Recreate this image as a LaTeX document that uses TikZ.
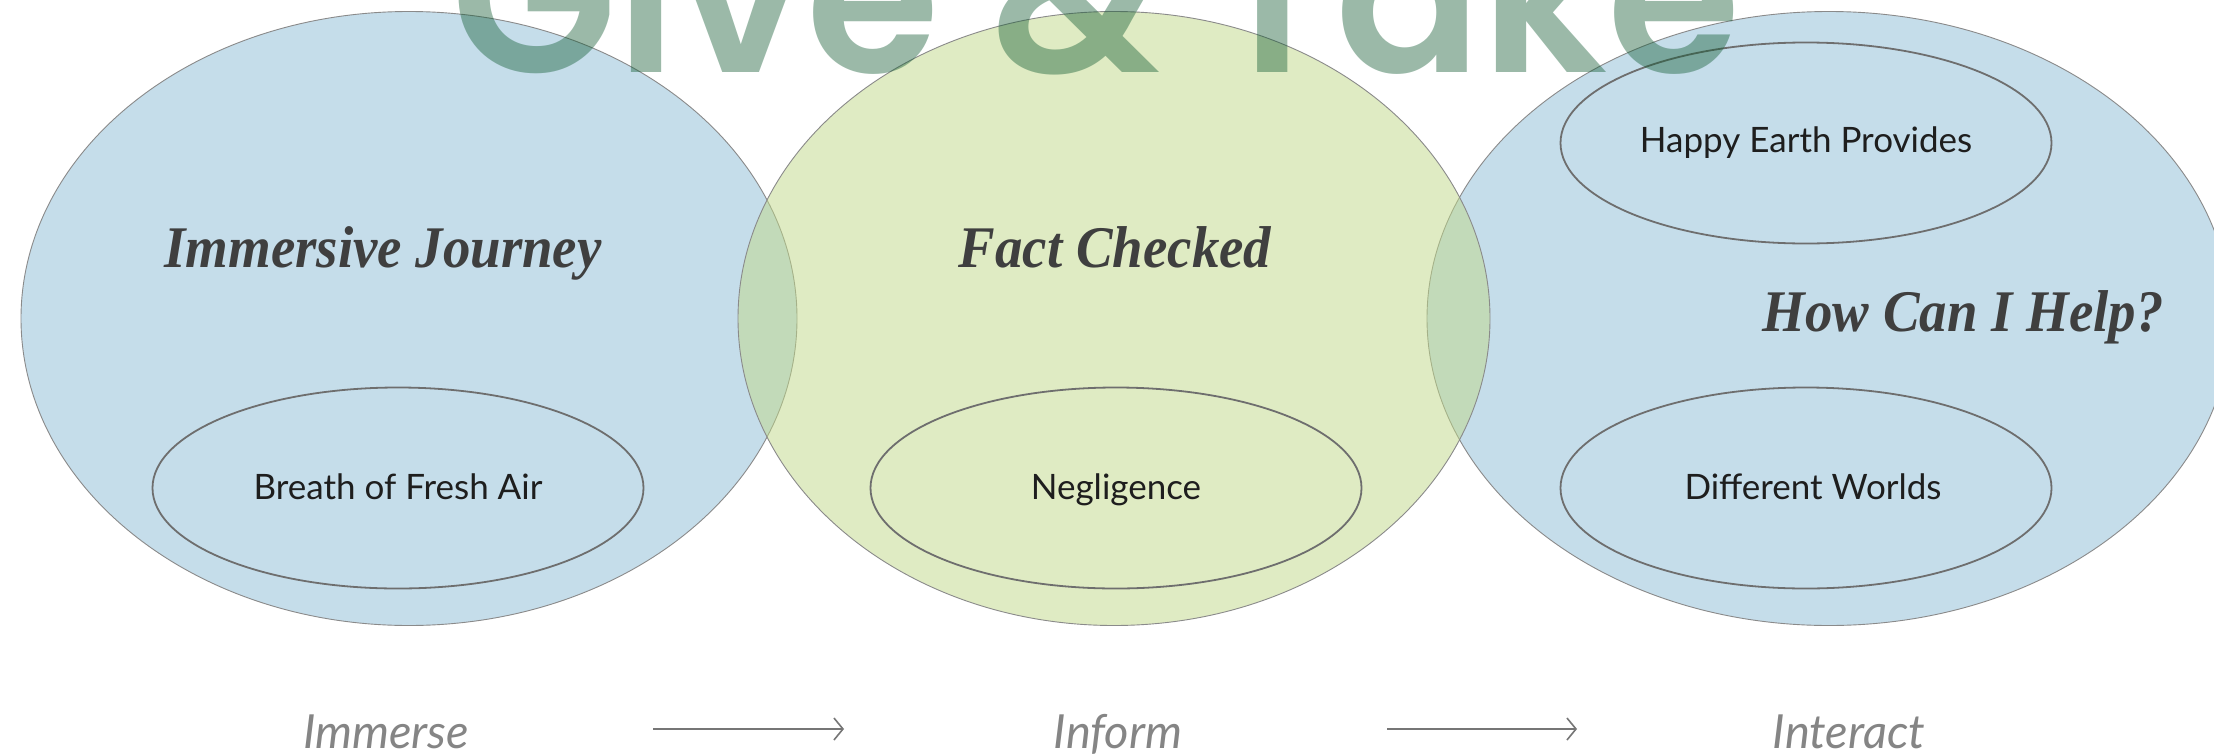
\documentclass[tikz,border=0pt]{standalone}
\usepackage{fontspec}
\usetikzlibrary{shapes.geometric,arrows.meta}
\newfontfamily\headfont[FakeStretch=0.93]{Liberation Serif}
\newfontfamily\labelfont{Lato}
\newfontfamily\stepfont{Lato}
\IfFontExistsTF{Poppins SemiBold}
  {\newfontfamily\bigtitlefont{Poppins SemiBold}\newcommand\titlewt{\relax}\newcommand\titlesize{216}}
  {\newfontfamily\bigtitlefont{Poppins}\newcommand\titlewt{\bfseries}\newcommand\titlesize{212}}
\definecolor{blueE}{HTML}{8DBDD7}
\definecolor{greenE}{HTML}{C1D989}
\definecolor{ttl}{RGB}{17,90,50}
\definecolor{headc}{HTML}{3F3F3F}
\definecolor{labc}{HTML}{1E1E1E}
\definecolor{stepc}{HTML}{858585}
\definecolor{edgec}{HTML}{8A8A8A}
\definecolor{inedge}{HTML}{6E6E6E}
\definecolor{arrc}{HTML}{767676}
\tikzset{
  bigE/.style={ellipse, draw=edgec, line width=0.9pt, inner sep=0pt, fill opacity=0.5},
  innerE/.style={ellipse, draw=inedge, line width=1.8pt, inner sep=0pt,
    minimum width=491pt, minimum height=201pt, text height=22pt, text depth=0pt,
    font=\labelfont\fontsize{35}{40}\selectfont, text=labc},
  headtxt/.style={anchor=base, inner sep=0pt, text=headc,
    font=\headfont\bfseries\itshape\fontsize{59}{64}\selectfont},
  steptxt/.style={anchor=base, inner sep=0pt, text=stepc,
    font=\stepfont\itshape\fontsize{47}{50}\selectfont},
  flowarrow/.style={draw=arrc, line width=1.8pt, -{Straight Barb[length=9pt,width=22pt,line width=1.6pt]}}
}
\begin{document}
\begin{tikzpicture}[x=1pt,y=-1pt]
\useasboundingbox (0,0) rectangle (2214,755);
\fill[white] (0,0) rectangle (2214,755);
% big ellipses (green drawn last so both overlaps look green)
\node[bigE, fill=blueE, minimum width=776pt, minimum height=614pt] (leftE) at (409,318.5) {};
\node[bigE, fill=blueE, minimum width=804pt, minimum height=614pt] (rightE) at (1829,318.5) {};
\node[bigE, fill=greenE, minimum width=752pt, minimum height=614pt] (midE) at (1114,318.5) {};
% inner ellipses
\node[innerE] (breath) at (398,488) {Breath of Fresh Air};
\node[innerE] (neglig) at (1116,488) {Negligence};
\node[innerE, text height=19pt] (happy) at (1806,143) {Happy Earth Provides};
\node[innerE] (worlds) at (1806,488) {\hspace*{14pt}Different Worlds};
% headings
\node[headtxt] (immjour) at (383,267) {Immersive Journey};
\node[headtxt] (factchk) at (1115,267) {Fact Checked};
\node[headtxt] (howhelp) at (1963,331) {How Can I Help?};
% bottom steps
\node[steptxt] (immerse) at (386,748) {Immerse};
\node[steptxt] (inform) at (1118,748) {Inform};
\node[steptxt] (interact) at (1849,748) {Interact};
\coordinate (a1s) at (653,729);
\coordinate (a1e) at (844,729);
\coordinate (a2s) at (1387,729);
\coordinate (a2e) at (1577,729);
\draw[flowarrow] (a1s) -- (a1e);
\draw[flowarrow] (a2s) -- (a2e);
% title
\node[anchor=base, inner sep=0pt, text=ttl, text opacity=0.42,
  font=\bigtitlefont\titlewt\fontsize{\titlesize}{\titlesize}\selectfont] (title) at (1096,72) {Give \& Take};
\end{tikzpicture}
\end{document}
